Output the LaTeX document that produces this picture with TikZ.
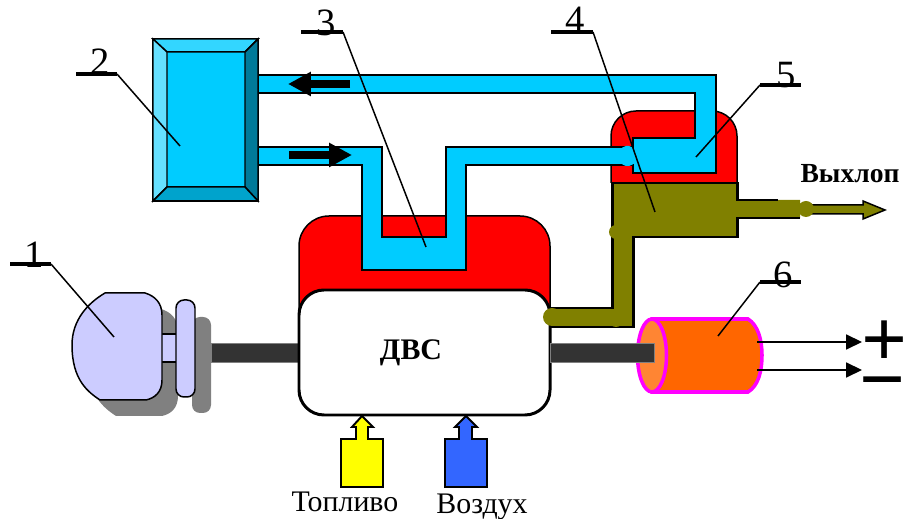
\documentclass[tikz,border=0pt]{standalone}
\usepackage{fontspec}
\setmainfont{Liberation Serif}
\usetikzlibrary{arrows.meta}
\definecolor{pipeblue}{HTML}{00CCFF}
\definecolor{olivegas}{HTML}{808000}
\definecolor{shaftdark}{HTML}{333333}
\definecolor{motorlilac}{HTML}{CCCCFF}
\definecolor{genbody}{HTML}{FF6600}
\definecolor{genface}{HTML}{FF8533}
\definecolor{genrim}{HTML}{FF00FF}
\definecolor{airblue}{HTML}{3366FF}
\definecolor{fuelyellow}{HTML}{FFFF00}
\begin{document}
\begin{tikzpicture}[x=0.02cm,y=-0.02cm,
  thinline/.style={line width=0.85pt},
  thickline/.style={line width=1.7pt},
  shaftbar/.style={fill=shaftdark,draw=gray,line width=0.3pt},
  numlabel/.style={font=\fontsize{22}{22}\selectfont,inner sep=0pt},
  signlabel/.style={font=\fontsize{46}{46}\selectfont\bfseries,inner sep=0pt},
  leader/.style={line width=0.85pt},
  fatarrow/.style={line width=4pt,-{Triangle[length=13pt,width=13pt]}},
  termarrow/.style={line width=0.85pt,-{Triangle[length=9pt,width=8.5pt]}},
  inlet/.style={draw=black,line width=1.1pt}]
\useasboundingbox (0,0) rectangle (906,519);
\fill[gray] (121,309)--(161,309) .. controls (171,312) and (178,319) .. (178,331)--(178,396) .. controls (178,408) and (171,414) .. (162,416)--(116,416) .. controls (104,408) and (88,396) .. (88,361) .. controls (88,336) and (104,319) .. (121,309)--cycle;
\fill[gray,rounded corners=0.16cm] (192,317) rectangle (211,413);
\draw[thinline,fill=motorlilac] (161,334) rectangle (177,362);
\draw[thinline,fill=motorlilac] (105,293)--(145,293) .. controls (155,296) and (162,303) .. (162,315)--(162,380) .. controls (162,392) and (155,398) .. (146,400)--(100,400) .. controls (88,392) and (72,380) .. (72,345) .. controls (72,320) and (88,303) .. (105,293)--cycle;
\draw[thinline,fill=motorlilac,rounded corners=0.16cm] (176,300) rectangle (195,397);
\draw[shaftbar] (211,343) rectangle (299,362);
\draw[thinline,fill=red,rounded corners=0.6cm] (299,320)--(299,216)--(550,216)--(550,320);
\draw[thickline,fill=white,rounded corners=0.5cm] (299,290) rectangle (550,415);
\node[font=\fontsize{17}{17}\selectfont\bfseries] (dvs) at (411,353) {ДВС};
\draw[thinline,fill=red,rounded corners=0.5cm] (611,183)--(611,111)--(737,111)--(737,183);
\draw[thinline,fill=pipeblue] (258,75)--(716,75)--(716,173)--(633,173)--(633,165)--(466,165)--(466,270)--(362,270)--(362,165)--(258,165)--(258,147)--(382,147)--(382,237)--(446,237)--(446,147)--(633,147)--(633,138)--(695,138)--(695,93)--(258,93)--cycle;
\fill[pipeblue,rounded corners=0.1cm] (621,146) rectangle (634,166);
\fill[olivegas] (612,183)--(737,183)--(737,200)--(800,200)--(800,218)--(737,218)--(737,237)--(633,237)--(633,327)--(552,327)--(552,308)--(612,308)--cycle;
\draw[line width=1.7pt] (800,218)--(737,218)--(737,237)--(633,237)--(633,327)--(550,327);
\draw[line width=1.7pt] (550,308)--(612,308)--(612,183)--(737,183)--(737,200)--(778,200);
\fill[olivegas] (552,317) circle (9);
\fill[olivegas] (616,232) circle (7);
\fill[olivegas] (616,320) circle (7);
\draw[thinline,fill=olivegas] (806,205)--(863,205)--(863,201)--(885,210)--(863,219)--(863,214)--(806,214)--cycle;
\fill[olivegas] (806,209) circle (8);
\node[font=\fontsize{15.7}{15.7}\selectfont\bfseries] (exhaust) at (850,174) {Выхлоп};
\draw[thinline,fill=pipeblue] (153,39) rectangle (258,201);
\draw[thinline,fill=pipeblue!80!white] (153,39)--(258,39)--(245,52)--(167,52)--cycle;
\draw[thinline,fill=pipeblue!60!white] (153,39)--(167,52)--(167,187)--(153,201)--cycle;
\draw[thinline,fill=pipeblue!60!black] (258,39)--(245,52)--(245,187)--(258,201)--cycle;
\draw[thinline,fill=pipeblue!80!black] (153,201)--(167,187)--(245,187)--(258,201)--cycle;
\coordinate (backfrom) at (350,84);
\coordinate (backto) at (288,84);
\coordinate (forwfrom) at (289,155);
\coordinate (forwto) at (352,155);
\draw[fatarrow] (backfrom)--(backto);
\draw[fatarrow] (forwfrom)--(forwto);
\draw[line width=2pt,draw=genrim,fill=genbody] (652,319)--(748,319) .. controls (758,325) and (762,340) .. (762,355) .. controls (762,372) and (758,386) .. (748,392)--(652,392)--cycle;
\draw[line width=2pt,draw=genrim,fill=genface] (652,355.5) ellipse (14.5 and 36.5);
\draw[shaftbar] (550,343) rectangle (654,362);
\node[signlabel] (plus) at (885,344) {+};
\node[signlabel] (minus) at (883,392) {−};
\coordinate (plusout) at (757,342);
\coordinate (plusin) at (862,342);
\coordinate (minusout) at (757,370);
\coordinate (minusin) at (862,370);
\draw[termarrow] (plusout)--(plusin);
\draw[termarrow] (minusout)--(minusin);
\draw[inlet,fill=fuelyellow] (341,487)--(341,439)--(356,439)--(356,427)--(352,427)--(362,416)--(373,427)--(368,427)--(368,439)--(383,439)--(383,487)--cycle;
\draw[inlet,fill=airblue] (445,487)--(445,439)--(459,439)--(459,427)--(455,427)--(466,416)--(477,427)--(472,427)--(472,439)--(487,439)--(487,487)--cycle;
\node[font=\fontsize{17}{17}\selectfont] (fuel) at (345,502) {Топливо};
\node[font=\fontsize{17}{17}\selectfont] (air) at (482,507) {Воздух};
\node[numlabel] (num1) at (34,255) {1};
\coordinate (bar1a) at (10,264);
\coordinate (bar1b) at (51,264);
\coordinate (tip1) at (114,337);
\draw[line width=2.8pt] (bar1a)--(bar1b);
\draw[leader] (bar1b)--(tip1);
\node[numlabel] (num2) at (100,62) {2};
\coordinate (bar2a) at (76,74);
\coordinate (bar2b) at (117,74);
\coordinate (tip2) at (180,146);
\draw[line width=2.8pt] (bar2a)--(bar2b);
\draw[leader] (bar2b)--(tip2);
\node[numlabel] (num3) at (326,23) {3};
\coordinate (bar3a) at (301,32);
\coordinate (bar3b) at (343,32);
\coordinate (tip3) at (426,247);
\draw[line width=1.8pt] (bar3a)--(bar3b);
\draw[leader] (bar3b)--(tip3);
\node[numlabel] (num4) at (575,20) {4};
\coordinate (bar4a) at (551,32);
\coordinate (bar4b) at (593,32);
\coordinate (tip4) at (655,212);
\draw[line width=1.8pt] (bar4a)--(bar4b);
\draw[leader] (bar4b)--(tip4);
\node[numlabel] (num5) at (786,75) {5};
\coordinate (bar5a) at (760,85);
\coordinate (bar5b) at (801,85);
\coordinate (tip5) at (696,157);
\draw[line width=2.4pt] (bar5a)--(bar5b);
\draw[leader] (bar5a)--(tip5);
\node[numlabel] (num6) at (783,275) {6};
\coordinate (bar6a) at (760,282);
\coordinate (bar6b) at (801,282);
\coordinate (tip6) at (718,336);
\draw[line width=1.8pt] (bar6a)--(bar6b);
\draw[leader] (bar6a)--(tip6);
\end{tikzpicture}
\end{document}
